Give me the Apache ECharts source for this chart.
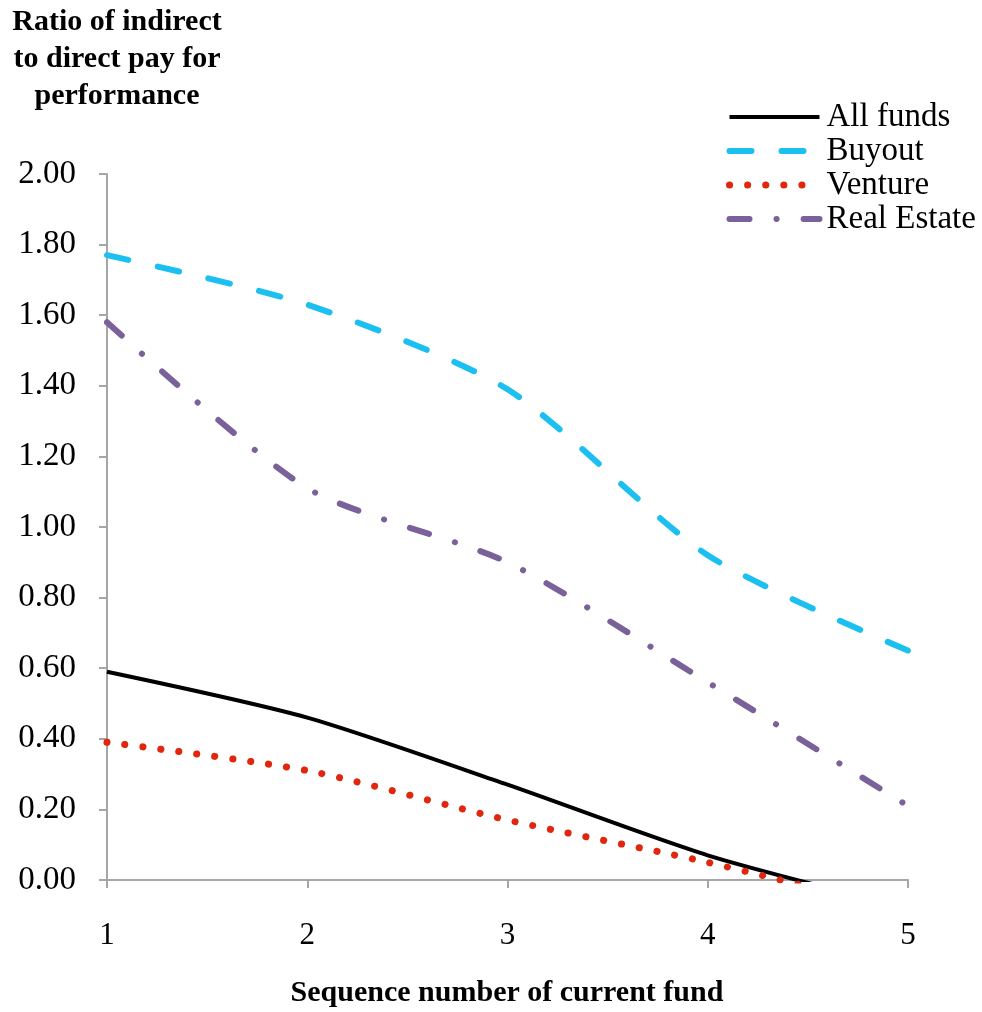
<!DOCTYPE html>
<html>
<head>
<meta charset="utf-8">
<script src="https://cdn.jsdelivr.net/npm/echarts@6/dist/echarts.min.js"></script>
<style>
html,body{margin:0;padding:0;background:#fff;}
#chart{width:982px;height:1012px;}
</style>
</head>
<body>
<div id="chart"></div>
<script>
var xValues = [1, 2, 3, 4, 5];
var allFunds = [0.59, 0.46, 0.27, 0.07, -0.08];
var buyout = [1.77, 1.63, 1.39, 0.92, 0.65];
var venture = [0.39, 0.31, 0.17, 0.05, -0.09];
var realEstate = [1.58, 1.11, 0.90, 0.56, 0.21];
var seriesNames = ['All funds', 'Buyout', 'Venture', 'Real Estate'];

function pairs(arr){ return xValues.map(function(x,i){ return [x, arr[i]]; }); }

var serif = '"Liberation Serif", "Times New Roman", serif';
var styles = {
  'All funds': {color: '#000000', width: 4, type: 'solid', cap: 'butt'},
  'Buyout': {color: '#1cc0f0', width: 6, type: [22, 30], cap: 'round'},
  'Venture': {color: '#e0260e', width: 7, type: [0.1, 18], cap: 'round'},
  'Real Estate': {color: '#7a6199', width: 6, type: [20, 27, 0.1, 27], cap: 'round'}
};
var dataMap = {'All funds': allFunds, 'Buyout': buyout, 'Venture': venture, 'Real Estate': realEstate};

var chart = echarts.init(document.getElementById('chart'));
chart.setOption({
  animation: false,
  backgroundColor: '#fff',
  grid: {left: 107, right: 74, top: 174, bottom: 132},
  graphic: [
    {type: 'text', x: 117, y: 4, style: {text: 'Ratio of indirect\nto direct pay for\nperformance', font: 'bold 30px ' + serif, fill: '#000', align: 'center', lineHeight: 37}},
    {type: 'text', x: 507, y: 978, style: {text: 'Sequence number of current fund', font: 'bold 30px ' + serif, fill: '#000', align: 'center'}}
  ],
  legend: {
    orient: 'vertical', left: 726, top: 100, itemWidth: 90, itemHeight: 14, itemGap: 0, padding: 0,
    itemStyle: {opacity: 0},
    textStyle: {fontFamily: serif, fontSize: 33, lineHeight: 34, color: '#000', padding: [0,0,0,2]},
    data: seriesNames.map(function(n){ return {name: n, lineStyle: {width: styles[n].width, type: styles[n].type, cap: styles[n].cap, color: styles[n].color}}; })
  },
  xAxis: {
    type: 'value', min: 1, max: 5, interval: 1,
    axisLine: {show: true, lineStyle: {color: '#a6a6a6', width: 2}},
    axisTick: {show: true, length: 8, lineStyle: {color: '#a6a6a6', width: 2}},
    axisLabel: {fontFamily: serif, fontSize: 31, color: '#000', margin: 40},
    splitLine: {show: false}
  },
  yAxis: {
    type: 'value', min: 0, max: 2, interval: 0.2,
    axisLine: {show: true, lineStyle: {color: '#a6a6a6', width: 2}},
    axisTick: {show: true, length: 8, lineStyle: {color: '#a6a6a6', width: 2}},
    axisLabel: {fontFamily: serif, fontSize: 33, color: '#000', margin: 31, formatter: function(v){ return v.toFixed(2); }},
    splitLine: {show: false}
  },
  series: seriesNames.map(function(n){
    return {name: n, type: 'line', data: pairs(dataMap[n]), symbol: 'none', smooth: 0.25, clip: true,
      lineStyle: {color: styles[n].color, width: styles[n].width, type: styles[n].type, cap: styles[n].cap},
      itemStyle: {color: styles[n].color}};
  })
});
</script>
</body>
</html>
